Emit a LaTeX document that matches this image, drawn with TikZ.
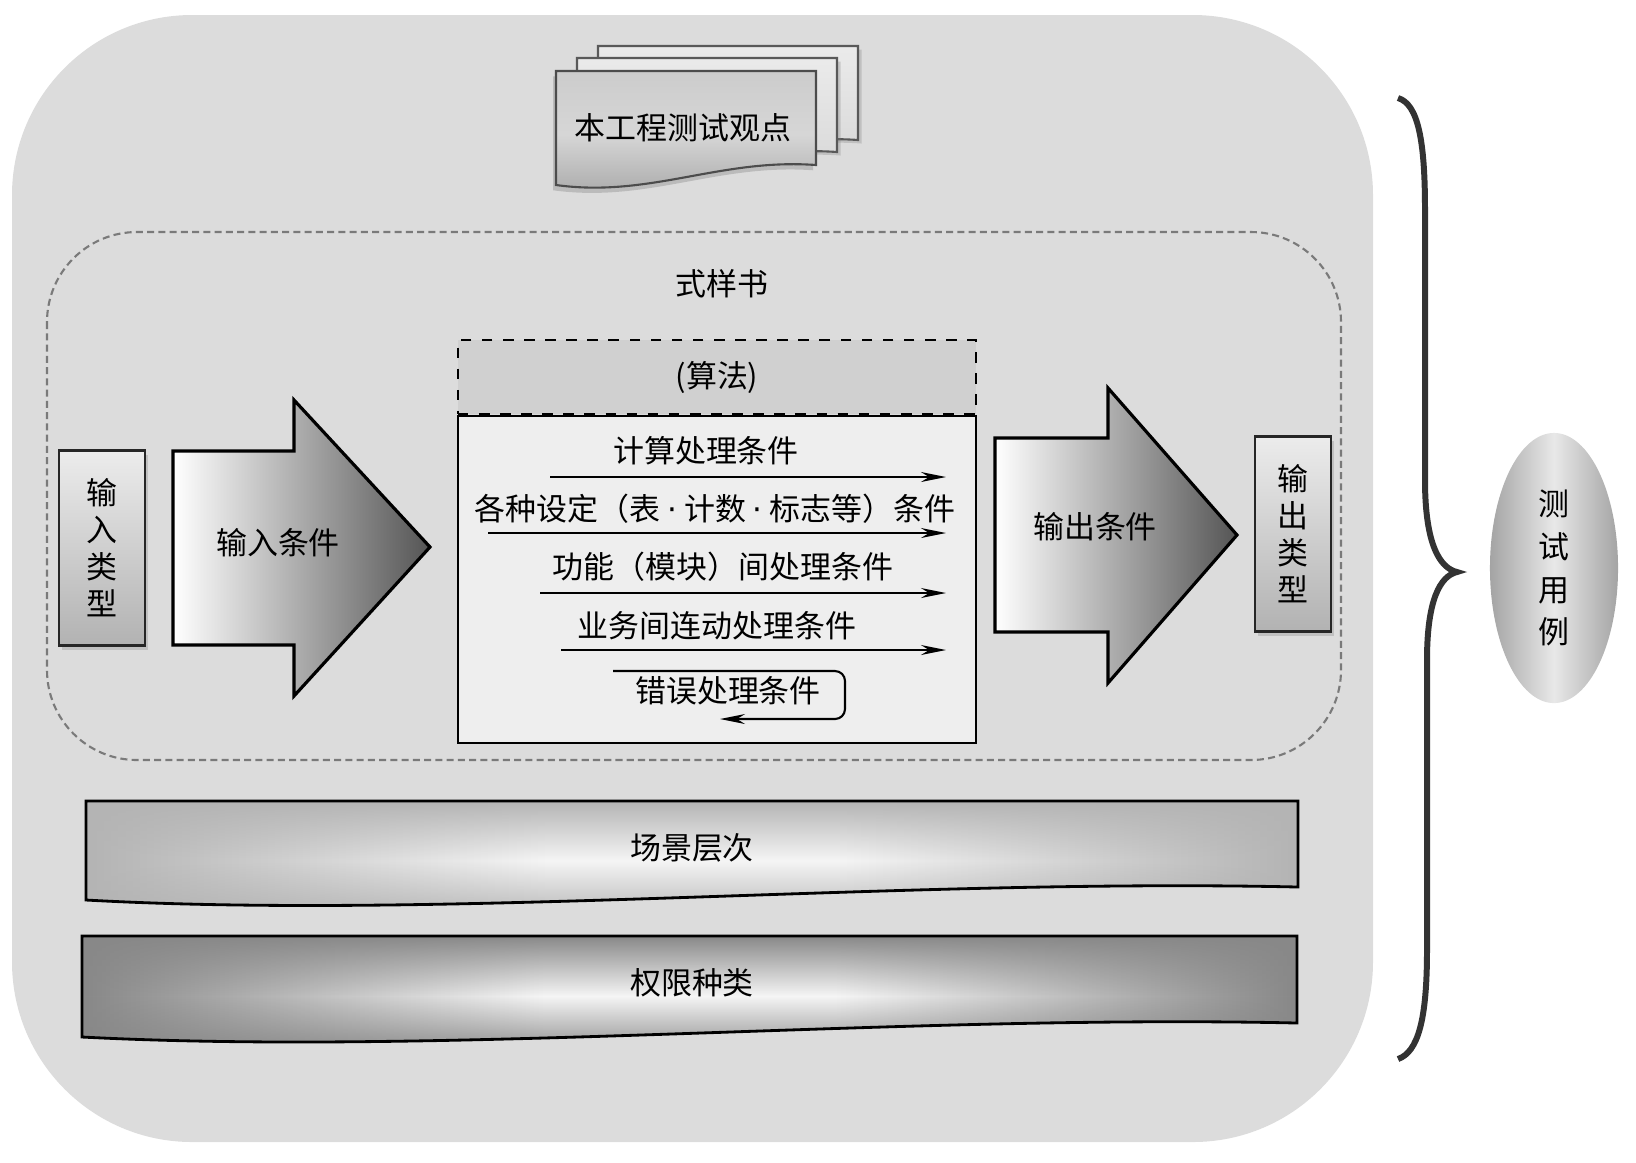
\documentclass[tikz,border=0pt]{standalone}
\usepackage{fontspec}
\setmainfont{Noto Sans CJK SC}
\newfontfamily\dotfont{DejaVu Sans}
\usepackage{xcolor}
\usetikzlibrary{arrows.meta,positioning,shapes.geometric,shadows,fadings}

\definecolor{outerbg}{HTML}{DCDCDC}
\definecolor{headgray}{HTML}{D0D0D0}
\definecolor{bodygray}{HTML}{EEEEEE}
\definecolor{typetop}{HTML}{ECECEC}
\definecolor{typebot}{HTML}{B2B2B2}
\definecolor{arrowdark}{HTML}{555555}
\definecolor{bandlight}{HTML}{B4B4B4}
\definecolor{banddark}{HTML}{888888}
\definecolor{caseedge}{HTML}{A4A4A4}
\definecolor{casemid}{HTML}{E8E8E8}
\definecolor{bracegray}{HTML}{333333}
\definecolor{dashgray}{HTML}{7A7A7A}

\pgfdeclarehorizontalshading{bandlightshade}{100bp}{color(0bp)=(bandlight); color(25bp)=(bandlight); color(44bp)=(white!96!black); color(56bp)=(white!96!black); color(75bp)=(bandlight); color(100bp)=(bandlight)}
\pgfdeclarehorizontalshading{banddarkshade}{100bp}{color(0bp)=(banddark); color(25bp)=(banddark); color(44bp)=(white!96!black); color(56bp)=(white!96!black); color(75bp)=(banddark); color(100bp)=(banddark)}
\tikzfading[name=bandedge, top color=transparent!0, bottom color=transparent!0, middle color=transparent!100]

\begin{document}
\begin{tikzpicture}[
  x=0.01cm, y=-0.01cm,
  font=\fontsize{8.8}{10.5}\selectfont,
  txt/.style={inner sep=1pt},
  typebox/.style={draw=black!85, line width=0.8pt, top color=typetop, bottom color=typebot, minimum height=1.95cm, align=center, drop shadow={shadow xshift=0.8pt, shadow yshift=-1.2pt, opacity=0.3}},
  bigarrow/.style={draw=black, line width=0.9pt, left color=white, right color=arrowdark},
  algohead/.style={draw, dashed, fill=headgray, minimum width=5.18cm, minimum height=0.74cm, inner sep=0pt},
  algobody/.style={draw, fill=bodygray, line width=0.7pt, minimum width=5.18cm, minimum height=3.27cm},
  flow/.style={line width=0.6pt, -{Stealth[length=0.25cm, width=0.1cm]}},
  sheetback/.style={draw=black!65, line width=0.6pt, top color=white!92!black, bottom color=white!84!black, drop shadow={shadow xshift=1pt, shadow yshift=-1pt, opacity=0.3}},
  sheetfront/.style={draw=black!70, line width=0.6pt, top color=white!80!black, bottom color=white!66!black, middle color=white!84!black, drop shadow={shadow xshift=-0.8pt, shadow yshift=-1.5pt, opacity=0.35}},
  bandone/.style={preaction={shade, shading=bandlightshade}, preaction={fill=bandlight, path fading=bandedge, fit fading=true}, draw=black, line width=0.8pt},
  bandtwo/.style={preaction={shade, shading=banddarkshade}, preaction={fill=banddark, path fading=bandedge, fit fading=true}, draw=black, line width=0.8pt},
  casenode/.style={ellipse, minimum width=1.28cm, minimum height=2.7cm, inner sep=0pt, left color=caseedge, right color=caseedge, middle color=casemid, align=center, font=\fontsize{8.8}{12.2}\selectfont},
]
\useasboundingbox (0,0) rectangle (1636,1162);

% outer frame and spec frame
\fill[outerbg, rounded corners=1.8cm] (12,15) rectangle (1373,1142);
\draw[dashgray, line width=0.6pt, dash pattern=on 2pt off 1.2pt, rounded corners=0.9cm] (47,232) rectangle (1341,760);
\node[txt] (spec) at (722,284) {式样书};

% stacked sheets
\foreach \dx/\dy in {42/-25, 21/-13}
  \path[sheetback, shift={(\dx,\dy)}] (556,71) -- (816,71) -- (816,165) .. controls (720,158) and (650,198) .. (556,185) -- cycle;
\path[sheetfront] (556,71) -- (816,71) -- (816,165) .. controls (720,158) and (650,198) .. (556,185) -- cycle;
\node[txt] (viewpt) at (683,128) {本工程测试观点};

% input side
\node[typebox, minimum width=0.86cm] (intype) at (102,548) {输\\入\\类\\型};
\shade[bigarrow] (173,451) -- (294,451) -- (294,400) -- (430,547) -- (294,696) -- (294,645) -- (173,645) -- cycle;
\node[txt] (incond) at (278,543) {输入条件};

% algorithm box
\node[algohead] (algo) at (717,377) {(算法)};
\node[algobody, below=0pt of algo] (algobox) {};
\node[txt] (c1) at (706,451) {计算处理条件};
\node[txt] (c2) at (715,509) {各种设定（表\hspace{2pt}{\dotfont ·}\hspace{2pt}计数\hspace{2pt}{\dotfont ·}\hspace{2pt}标志等）条件};
\node[txt] (c3) at (723,567) {功能（模块）间处理条件};
\node[txt] (c4) at (717,626) {业务间连动处理条件};
\node[txt] (c5) at (728,691) {错误处理条件};
\foreach \n/\xs/\yy in {1/550/477, 2/488/533, 3/540/593, 4/561/650} {
  \coordinate (a\n s) at (\xs,\yy);
  \coordinate (a\n e) at (946,\yy);
  \draw[flow] (a\n s) -- (a\n e);
}
\coordinate (errs) at (613,671);
\coordinate (erre) at (720,719);
\draw[flow, rounded corners=0.1cm] (errs) -- ++(232,0) |- (erre);

% output side
\shade[bigarrow] (995,438) -- (1108,438) -- (1108,388) -- (1237,535) -- (1108,683) -- (1108,632) -- (995,632) -- cycle;
\node[txt] (outcond) at (1095,527) {输出条件};
\node[typebox, minimum width=0.76cm] (outtype) at (1293,534) {输\\出\\类\\型};

% bands
\path[bandone] (86,801) -- (1298,801) -- (1298,887) .. controls (900,878) and (450,920) .. (86,900) -- cycle;
\node[txt] (scene) at (692,848) {场景层次};
\path[bandtwo] (82,936) -- (1297,936) -- (1297,1023) .. controls (900,1014) and (450,1056) .. (82,1037) -- cycle;
\node[txt] (perm) at (692,983) {权限种类};

% brace and test cases
\draw[bracegray, line width=1.7pt] (1398,98) .. controls (1418,104) and (1425,140) .. (1425,210) -- (1425,480) .. controls (1425,545) and (1440,568) .. (1457,572) .. controls (1440,576) and (1427,600) .. (1427,660) -- (1427,950) .. controls (1427,1020) and (1418,1052) .. (1398,1059);
\node[casenode] (cases) at (1554,568) {测\\试\\用\\例};
\end{tikzpicture}
\end{document}
